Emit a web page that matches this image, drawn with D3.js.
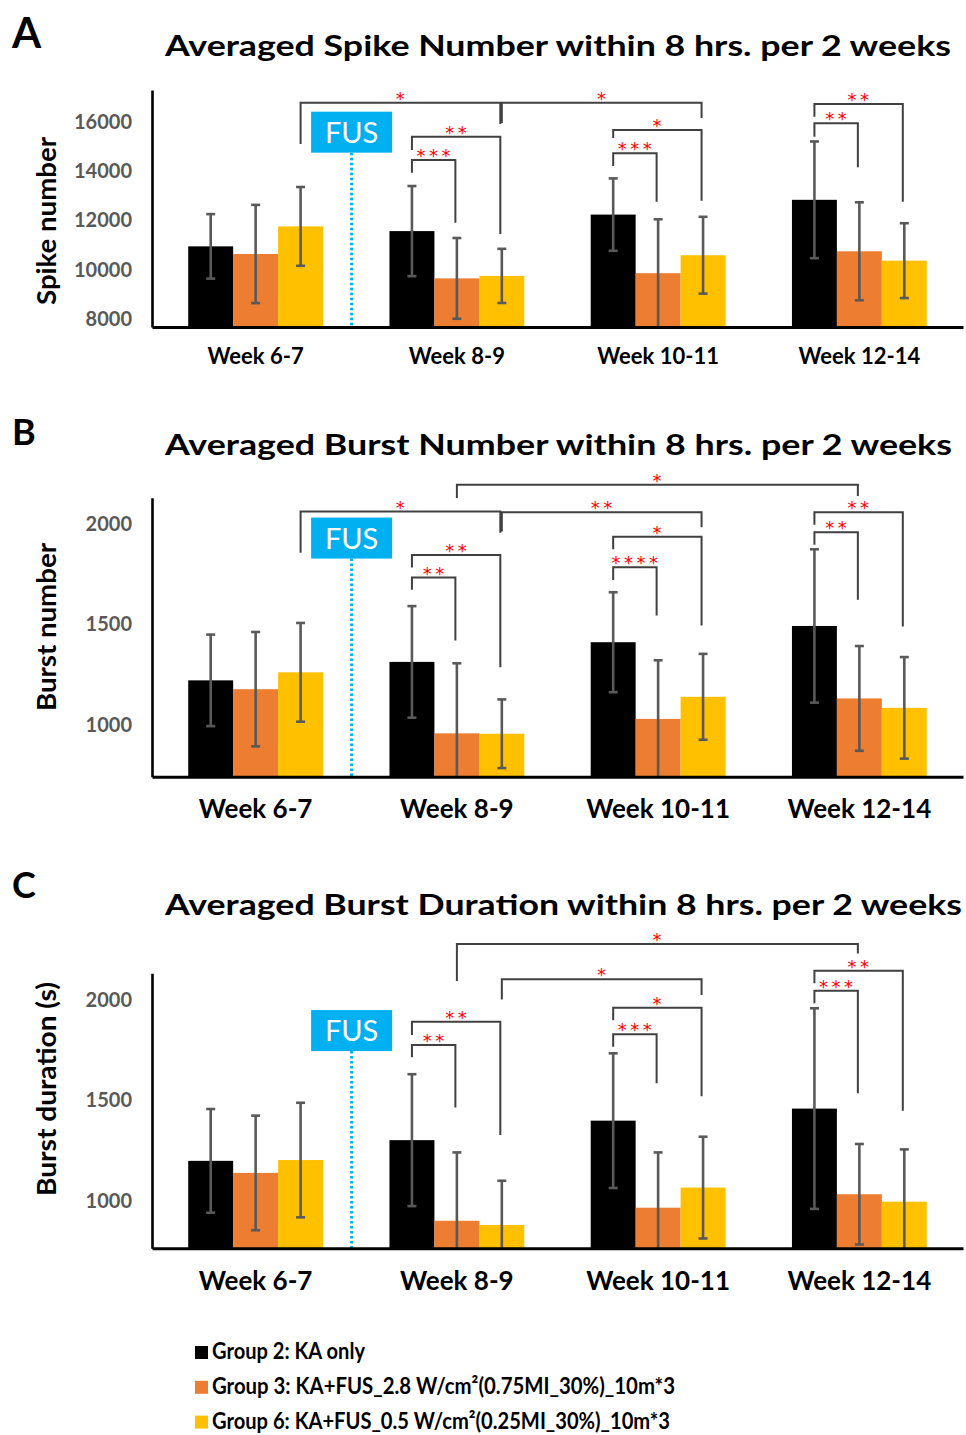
<!DOCTYPE html>
<html><head><meta charset="utf-8">
<script src="https://cdn.jsdelivr.net/npm/d3@7"></script>
<style>body{margin:0;background:#fff} svg{display:block}</style>
</head><body>
<svg id="chart" width="966" height="1435"></svg>
<script>
// ---------- DATA ----------
const weeks = ["Week 6-7", "Week 8-9", "Week 10-11", "Week 12-14"];
const groups = [
  "Group 2: KA only",
  "Group 3: KA+FUS_2.8 W/cm\u00B2(0.75MI_30%)_10m*3",
  "Group 6: KA+FUS_0.5 W/cm\u00B2(0.25MI_30%)_10m*3"
];

// Panel A: spike number (mean, SD)
const spikeKA     = [10950, 11570, 12240, 12840];
const spikeFUS28  = [10640,  9650,  9860, 10750];
const spikeFUS05  = [11760,  9750, 10590, 10370];
const spikeSdKA    = [1310, 1830, 1470, 2370];
const spikeSdFUS28 = [1995, 1640, 2190, 1990];
const spikeSdFUS05 = [1600, 1100, 1560, 1520];
const spikeTicks  = [8000, 10000, 12000, 14000, 16000];
const spikeDomain = [7675, 17300];

// Panel B: burst number
const burstKA     = [1222, 1314, 1412, 1493];
const burstFUS28  = [1178,  958, 1030, 1132];
const burstFUS05  = [1262,  956, 1140, 1085];
const burstSdKA    = [228, 278, 249, 382];
const burstSdFUS28 = [285, 349, 292, 261];
const burstSdFUS05 = [246, 171, 214, 253];
const burstTicks  = [1000, 1500, 2000];
const burstDomain = [742, 2132];

// Panel C: burst duration (s)
const durKA     = [1200, 1303, 1400, 1460];
const durFUS28  = [1140,  902,  967, 1034];
const durFUS05  = [1204,  881, 1067,  997];
const durSdKA    = [258, 328, 335, 499];
const durSdFUS28 = [285, 340, 275, 250];
const durSdFUS05 = [285, 220, 253, 260];
const durTicks  = [1000, 1500, 2000];
const durDomain = [765, 2133];

// Significance brackets: a/b = [week index, group index]; level & leg ends in data units
const spikeSig = [
  {a:[0,2], b:[1,2], level:16784, endA:15107, endB:15919, label:"*"},
  {a:[1,2], b:[2,2], level:16784, endA:15959, endB:16162, label:"*"},
  {a:[1,0], b:[1,2], level:15403, endA:14863, endB:11452, label:"**"},
  {a:[1,0], b:[1,1], level:14457, endA:13941, endB:11911, label:"***"},
  {a:[2,0], b:[2,2], level:15675, endA:15350, endB:12804, label:"*"},
  {a:[2,0], b:[2,1], level:14729, endA:14213, endB:12763, label:"***"},
  {a:[3,0], b:[3,2], level:16731, endA:16215, endB:12763, label:"**"},
  {a:[3,0], b:[3,1], level:15947, endA:15403, endB:14160, label:"**"}
];
const burstSig = [
  {a:[1,1], b:[3,1], level:2196, endA:2130, endB:2141, label:"*"},
  {a:[0,2], b:[1,2], level:2063, endA:1858, endB:1958, label:"*"},
  {a:[1,2], b:[2,2], level:2060, endA:1963, endB:1985, label:"**"},
  {a:[1,0], b:[1,2], level:1847, endA:1784, endB:1287, label:"**"},
  {a:[1,0], b:[1,1], level:1734, endA:1673, endB:1420, label:"**"},
  {a:[2,0], b:[2,2], level:1938, endA:1875, endB:1495, label:"*"},
  {a:[2,0], b:[2,1], level:1786, endA:1722, endB:1545, label:"****"},
  {a:[3,0], b:[3,2], level:2060, endA:1997, endB:1490, label:"**"},
  {a:[3,0], b:[3,1], level:1960, endA:1897, endB:1623, label:"**"}
];
const durSig = [
  {a:[1,1], b:[3,1], level:2279, endA:2095, endB:2232, label:"*"},
  {a:[1,2], b:[2,2], level:2103, endA:2003, endB:2025, label:"*"},
  {a:[1,0], b:[1,2], level:1892, endA:1826, endB:1328, label:"**"},
  {a:[1,0], b:[1,1], level:1776, endA:1715, endB:1466, label:"**"},
  {a:[2,0], b:[2,2], level:1962, endA:1900, endB:1522, label:"*"},
  {a:[2,0], b:[2,1], level:1830, endA:1768, endB:1586, label:"***"},
  {a:[3,0], b:[3,2], level:2146, endA:2083, endB:1449, label:"**"},
  {a:[3,0], b:[3,1], level:2046, endA:1984, endB:1536, label:"***"}
];
// FUS marker box top (data units)
const fusTops = [16420, 2033, 1950];

// ---------- STYLE / LAYOUT ----------
const FONT = "Lato, 'Open Sans', sans-serif";
const STAR_FONT = "'DejaVu Sans', sans-serif";
const COLORS = ["#000000", "#ED7D31", "#FFC000"];
const FUS_COLOR = "#00B0F0";
const ERR_COLOR = "#595959";
const BRK_COLOR = "#404040";

const panels = [
  {letter:"A", letterSize:42, letterBase:48,
   title:"Averaged Spike Number within 8 hrs. per 2 weeks", titleBase:56, titleEnd:951,
   ylabel:"Spike number", ylabelLen:168, ylabelY:221,
   yTop:90, yBot:327, domain:spikeDomain, ticks:spikeTicks,
   means:[spikeKA, spikeFUS28, spikeFUS05], sds:[spikeSdKA, spikeSdFUS28, spikeSdFUS05],
   sig:spikeSig, fusTop:fusTops[0], xLabelSize:22, xLabelBase:364},
  {letter:"B", letterSize:36, letterBase:445,
   title:"Averaged Burst Number within 8 hrs. per 2 weeks", titleBase:455, titleEnd:952,
   ylabel:"Burst number", ylabelLen:168, ylabelY:627,
   yTop:497.7, yBot:776.7, domain:burstDomain, ticks:burstTicks,
   means:[burstKA, burstFUS28, burstFUS05], sds:[burstSdKA, burstSdFUS28, burstSdFUS05],
   sig:burstSig, fusTop:fusTops[1], xLabelSize:26, xLabelBase:818},
  {letter:"C", letterSize:36, letterBase:898,
   title:"Averaged Burst Duration within 8 hrs. per 2 weeks", titleBase:915, titleEnd:962,
   ylabel:"Burst duration (s)", ylabelLen:214, ylabelY:1089,
   yTop:973.3, yBot:1248.3, domain:durDomain, ticks:durTicks,
   means:[durKA, durFUS28, durFUS05], sds:[durSdKA, durSdFUS28, durSdFUS05],
   sig:durSig, fusTop:fusTops[2], xLabelSize:26, xLabelBase:1290}
];

const svg = d3.select("#chart");
svg.append("rect").attr("width", 966).attr("height", 1435).attr("fill", "#fff");

const xLeft = 152, xRight = 963;

panels.forEach(p => {
  const g = svg.append("g");
  const x0 = d3.scaleBand().domain(weeks).range([xLeft, xRight])
    .paddingInner(0.33).paddingOuter(0.18);
  const x1 = d3.scaleBand().domain(d3.range(groups.length)).range([0, x0.bandwidth()]);
  const y = d3.scaleLinear().domain(p.domain).range([p.yBot, p.yTop]);
  const cx = (w, gi) => x0(weeks[w]) + x1(gi) + x1.bandwidth() / 2;

  // panel letter & title
  g.append("text").attr("x", 12).attr("y", p.letterBase).text(p.letter)
    .attr("font-family", FONT).attr("font-weight", 700).attr("font-size", p.letterSize).attr("fill", "#000");
  g.append("text").attr("x", 165).attr("y", p.titleBase).text(p.title)
    .attr("font-family", FONT).attr("font-weight", 700).attr("font-size", 29).attr("fill", "#000")
    .attr("textLength", p.titleEnd - 165).attr("lengthAdjust", "spacingAndGlyphs");

  // y label
  g.append("text")
    .attr("transform", `translate(56,${p.ylabelY}) rotate(-90)`)
    .attr("text-anchor", "middle").text(p.ylabel)
    .attr("font-family", FONT).attr("font-weight", 700).attr("font-size", 26).attr("fill", "#000")
    .attr("textLength", p.ylabelLen).attr("lengthAdjust", "spacingAndGlyphs");

  // bars
  const bars = [];
  p.means.forEach((arr, gi) => arr.forEach((v, w) => bars.push({w, gi, v, sd: p.sds[gi][w]})));
  g.append("g").selectAll("rect").data(bars).join("rect")
    .attr("x", d => x0(weeks[d.w]) + x1(d.gi))
    .attr("width", x1.bandwidth())
    .attr("y", d => y(d.v))
    .attr("height", d => p.yBot - y(d.v))
    .attr("fill", d => COLORS[d.gi]);

  // error bars
  const eg = g.append("g").attr("stroke", ERR_COLOR).attr("stroke-width", 2.6).attr("fill", "none");
  bars.forEach(d => {
    const xc = cx(d.w, d.gi);
    const hi = d.v + d.sd;
    const loRaw = d.v - d.sd;
    const clipped = loRaw < p.domain[0];
    const lo = clipped ? p.domain[0] : loRaw;
    eg.append("line").attr("x1", xc).attr("x2", xc).attr("y1", y(hi)).attr("y2", y(lo));
    eg.append("line").attr("x1", xc - 4.5).attr("x2", xc + 4.5).attr("y1", y(hi)).attr("y2", y(hi));
    if (!clipped) eg.append("line").attr("x1", xc - 4.5).attr("x2", xc + 4.5).attr("y1", y(lo)).attr("y2", y(lo));
  });

  // FUS marker
  const fusX = x0(weeks[0]) + x0.bandwidth() + (x0.step() - x0.bandwidth()) * 0.43;
  const boxTop = y(p.fusTop);
  g.append("line").attr("x1", fusX).attr("x2", fusX).attr("y1", boxTop + 41).attr("y2", p.yBot)
    .attr("stroke", FUS_COLOR).attr("stroke-width", 3).attr("stroke-dasharray", "2.5,2.5");
  g.append("rect").attr("x", fusX - 40.5).attr("y", boxTop).attr("width", 81).attr("height", 41)
    .attr("fill", FUS_COLOR);
  g.append("text").attr("x", fusX).attr("y", boxTop + 31).attr("text-anchor", "middle").text("FUS")
    .attr("font-family", FONT).attr("font-size", 29).attr("fill", "#fff");

  // significance brackets
  const bg = g.append("g");
  p.sig.forEach(s => {
    const xa = cx(s.a[0], s.a[1]), xb = cx(s.b[0], s.b[1]) - 1.5;
    bg.append("path")
      .attr("d", `M${xa},${y(s.endA)}V${y(s.level)}H${xb}V${y(s.endB)}`)
      .attr("fill", "none").attr("stroke", BRK_COLOR).attr("stroke-width", 2);
    bg.append("text").attr("x", (xa + xb) / 2 + 1.5).attr("y", y(s.level) + 2)
      .attr("text-anchor", "middle").text(s.label)
      .attr("font-family", STAR_FONT).attr("font-size", 18).attr("letter-spacing", 3.5).attr("fill", "#FF0000");
  });

  // axes
  const yAxis = g.append("g").attr("transform", `translate(${xLeft},0)`)
    .call(d3.axisLeft(y).tickValues(p.ticks).tickSize(0).tickSizeOuter(0).tickPadding(20).tickFormat(d3.format("d")));
  yAxis.select(".domain").attr("stroke", "#000").attr("stroke-width", 2.6);
  yAxis.selectAll("text").attr("font-family", FONT).attr("font-weight", 700).attr("font-size", 20).attr("fill", ERR_COLOR);

  const xAxis = g.append("g").attr("transform", `translate(0,${p.yBot})`)
    .call(d3.axisBottom(x0).tickSize(0).tickSizeOuter(0));
  xAxis.select(".domain").attr("stroke", "#000").attr("stroke-width", 3);
  xAxis.selectAll("text").attr("y", p.xLabelBase - p.yBot).attr("dy", 0)
    .attr("font-family", FONT).attr("font-weight", 700).attr("font-size", p.xLabelSize).attr("fill", "#000");
});

// legend
const legend = svg.append("g");
const legLens = [153, 463, 458];
const li = legend.selectAll("g").data(groups).join("g")
  .attr("transform", (d, i) => `translate(195,${1359 + i * 34.8})`);
li.append("rect").attr("x", 0).attr("y", -13).attr("width", 13).attr("height", 13)
  .attr("fill", (d, i) => COLORS[i]);
li.append("text").attr("x", 17).attr("y", 0).text(d => d)
  .attr("font-family", FONT).attr("font-weight", 700).attr("font-size", 23).attr("fill", "#000")
  .attr("textLength", (d, i) => legLens[i]).attr("lengthAdjust", "spacingAndGlyphs");
</script>
</body></html>
